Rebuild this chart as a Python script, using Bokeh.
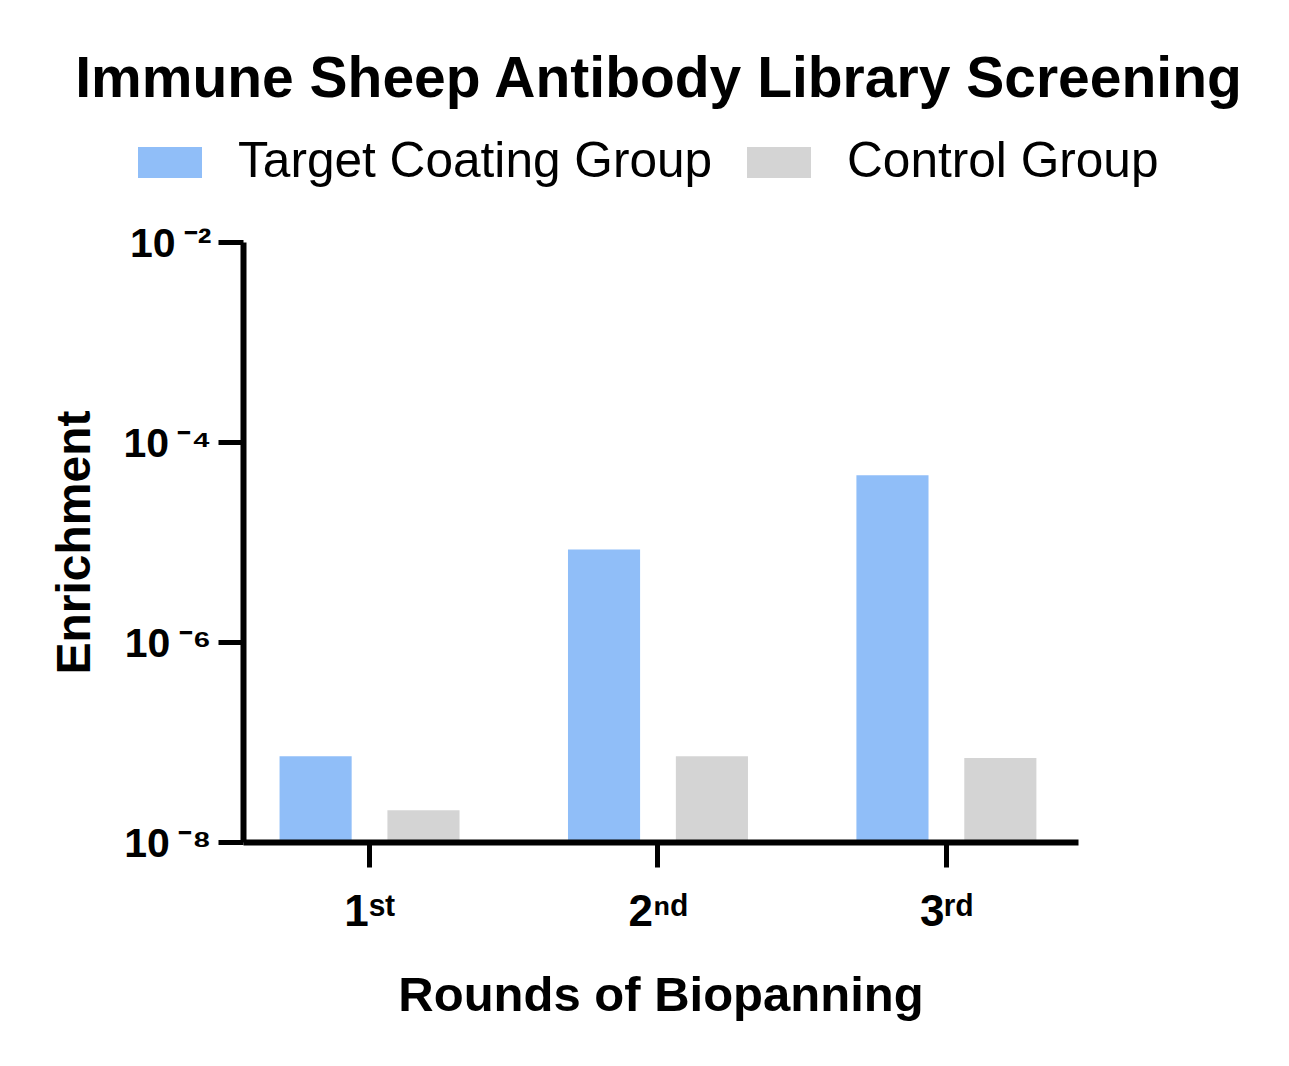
import numpy as np

from bokeh.plotting import figure
from bokeh.layouts import column
from bokeh.embed import file_html
from bokeh.resources import INLINE
from bokeh.models import Div, FixedTicker, CustomJSTickFormatter, Range1d

# data
rounds = [1, 2, 3]
round_labels = ["1\u02e2\u1d57", "2\u207f\u1d48", "3\u02b3\u1d48"]   # 1st 2nd 3rd
target = [7.3e-8, 8.5e-6, 4.7e-5]
control = [2.1e-8, 7.3e-8, 7.0e-8]
decade_ticks = [1e-8, 1e-6, 1e-4, 1e-2]
decade_labels = ["10\u2009\u207b\u2078", "10\u2009\u207b\u2076",
                 "10\u2009\u207b\u2074", "10\u2009\u207b\u00b2"]
series_names = ["Target Coating Group", "Control Group"]
title = "Immune Sheep Antibody Library Screening"

FONT = "Liberation Sans"
BLUE = "#90BEF8"
GREY = "#D4D4D4"

W = 1280
TOP_H = 200

x0, x1 = 0.563, 3.458
y0, y1 = 1e-8, 1e-2

# ---- header: title and legend key
def key(left, color, name):
    sw = ('<div style="position:absolute;left:%dpx;top:147px;width:64px;'
          'height:31px;background:%s"></div>' % (left, color))
    tx = ('<div style="position:absolute;left:%dpx;top:136px;'
          'font-size:49.6px;line-height:1;white-space:nowrap">%s</div>'
          % (left + 100, name))
    return sw + tx

html = ('<div style="position:relative;width:%dpx;height:%dpx;'
        'font-family:\'%s\';color:black">' % (W, TOP_H, FONT))
html += ('<div style="position:absolute;left:0px;top:49px;width:1317px;'
         'text-align:center;font-weight:bold;font-size:57px;line-height:1;'
         'white-space:nowrap">%s</div>' % title)
html += key(138, BLUE, series_names[0])
html += key(747, GREY, series_names[1])
html += '</div>'
head = Div(text=html, width=W, height=TOP_H, margin=0)

# ---- main chart
p = figure(width=W, height=1058 - TOP_H, y_axis_type="log",
           x_range=Range1d(x0, x1), y_range=Range1d(y0, y1),
           output_backend="svg", toolbar_location=None,
           min_border_left=243, min_border_right=W - 1078,
           min_border_top=42, min_border_bottom=216)
p.outline_line_color = None
p.xgrid.grid_line_color = None
p.ygrid.grid_line_color = None

xs = np.array(rounds, dtype=float)
p.vbar(x=xs - 0.187, top=target, bottom=y0, width=0.25,
       fill_color=BLUE, line_color=None, legend_label=series_names[0])
p.vbar(x=xs + 0.187, top=control, bottom=y0, width=0.25,
       fill_color=GREY, line_color=None, legend_label=series_names[1])
p.legend.visible = False   # the key is drawn in the header

for ax in (p.xaxis[0], p.yaxis[0]):
    ax.axis_line_width = 6
    ax.axis_line_color = "black"
    ax.major_tick_line_width = 5
    ax.major_tick_line_color = "black"
    ax.major_tick_in = 0
    ax.major_tick_out = 25
    ax.minor_tick_line_color = None
    ax.major_label_text_font = FONT
    ax.major_label_text_font_style = "bold"
    ax.major_label_text_color = "black"
    ax.axis_label_text_font = FONT
    ax.axis_label_text_font_style = "bold"
    ax.axis_label_text_color = "black"

p.yaxis.ticker = FixedTicker(ticks=decade_ticks)
p.yaxis.formatter = CustomJSTickFormatter(args=dict(labels=decade_labels),
                                          code="return labels[index]")
p.yaxis.major_label_text_font_size = "41px"
p.yaxis.major_label_standoff = 7
p.yaxis.axis_label = "Enrichment"
p.yaxis.axis_label_text_font_size = "48px"
p.yaxis.axis_label_standoff = 20

p.xaxis.ticker = FixedTicker(ticks=rounds)
p.xaxis.formatter = CustomJSTickFormatter(args=dict(labels=round_labels),
                                          code="return labels[index]")
p.xaxis.major_label_text_font_size = "44px"
p.xaxis.major_label_standoff = 18
p.xaxis.axis_label = "Rounds of Biopanning"
p.xaxis.axis_label_text_font_size = "49px"
p.xaxis.axis_label_standoff = 29

page = column(head, p, spacing=0)

open("out.html", "w").write(file_html(page, INLINE))
